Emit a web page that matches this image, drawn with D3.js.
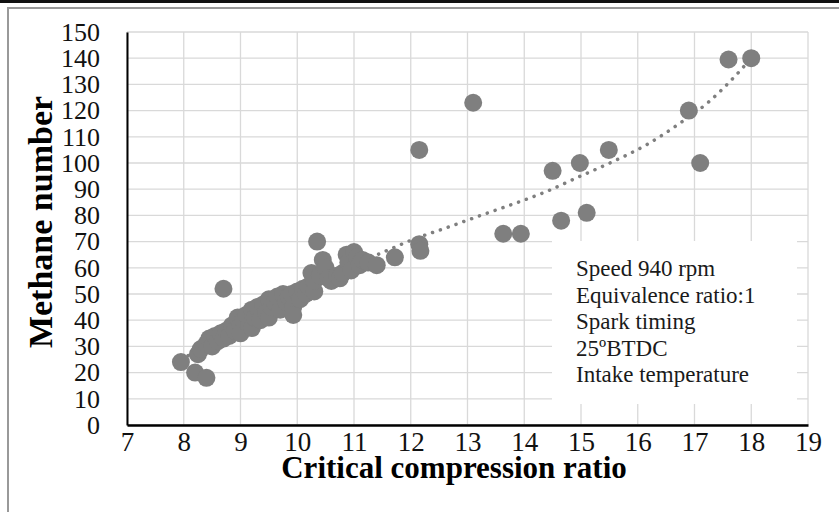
<!DOCTYPE html>
<html>
<head>
<meta charset="utf-8">
<script src="https://cdn.jsdelivr.net/npm/d3@7"></script>
<style>
  body { margin: 0; background: #fff; }
  svg { display: block; }
  text { font-family: "Liberation Serif", "Times New Roman", serif; }
</style>
</head>
<body>
<div id="chart"></div>
<script>
// critical compression ratio (x) and methane number (y) of each gas sample
const ccrValues = [
  7.95, 8.2, 8.4, 8.25, 8.3, 8.4, 8.45, 8.5, 8.55, 8.6,
  8.65, 8.7, 8.75, 8.8, 8.85, 8.9, 8.95, 9.0, 9.0, 9.05,
  9.1, 9.15, 9.2, 9.2, 9.25, 9.3, 9.35, 9.4, 9.45, 9.5,
  9.5, 9.55, 9.6, 9.65, 9.7, 9.75, 9.8, 9.85, 9.9, 9.93,
  9.93, 10.0, 10.05, 10.1, 10.15, 10.2, 10.25, 10.3, 10.3, 10.4,
  10.45, 10.5, 10.55, 10.6, 10.7, 10.75, 10.8, 10.87, 10.9, 10.95,
  11.0, 11.05, 11.1, 11.15, 11.25, 11.4, 8.7, 10.35, 11.72, 12.15,
  12.17, 12.15, 13.1, 13.63, 13.94, 14.5, 14.65, 14.98, 15.1, 15.49,
  16.9, 17.1, 17.6, 18.0
];
const methaneValues = [
  24, 20, 18, 27, 29, 31, 33, 30, 34, 32,
  35, 33, 36, 34, 38, 36, 41, 38, 35, 40,
  42, 38, 44, 37, 41, 45, 40, 46, 43, 48,
  41, 45, 47, 49, 44, 50, 47, 49, 50, 45,
  42, 51, 48, 52, 50, 53, 58, 51, 55, 57,
  63, 60, 56, 55, 57, 56, 58, 65, 62, 59,
  66, 64, 61, 63, 62, 61, 52, 70, 64, 69,
  66.5, 105, 123, 73, 73, 97, 78, 100, 81, 105,
  120, 100, 139.5, 140
];

// dotted trendline
const trendCcr = [7.95, 8.5, 9, 9.5, 10, 10.5, 11, 11.57, 12.04, 12.63, 13.21, 13.8, 14.38, 14.97, 15.56, 16.15, 16.73, 17.26, 17.73, 18.0];
const trendMethane = [25, 31.5, 38, 44, 50, 55.5, 61, 66.5, 70.8, 75.3, 79.8, 84.3, 89, 94.8, 100.5, 106.9, 115, 123.5, 133.5, 140];

const xTicks = d3.range(7, 20, 1);
const yTicks = d3.range(0, 160, 10);

const noteLines = ["Speed 940 rpm", "Equivalence ratio:1", "Spark timing", "25ºBTDC", "Intake temperature"];

const width = 839, height = 512;
const margin = { top: 32, right: 31, bottom: 87, left: 127 };

const svg = d3.select("#chart").append("svg")
  .attr("width", width).attr("height", height);

// page decoration: black rule on top, grey frame
svg.append("rect").attr("x", 0).attr("y", 0).attr("width", width).attr("height", 3).attr("fill", "#111");
svg.append("rect").attr("x", 8).attr("y", 8).attr("width", 900).attr("height", 600)
  .attr("fill", "none").attr("stroke", "#999").attr("stroke-width", 2);

const x = d3.scaleLinear().domain([7, 19]).range([margin.left, width - margin.right]);
const y = d3.scaleLinear().domain([0, 150]).range([height - margin.bottom, margin.top]);

// grid
const grid = svg.append("g").attr("stroke", "#d9d9d9").attr("stroke-width", 1.3);
grid.selectAll(".vx").data(xTicks).enter().append("line")
  .attr("x1", d => x(d)).attr("x2", d => x(d))
  .attr("y1", y(0)).attr("y2", y(150));
grid.selectAll(".hy").data(yTicks).enter().append("line")
  .attr("x1", x(7)).attr("x2", x(19))
  .attr("y1", d => y(d)).attr("y2", d => y(d));

// axes
const xAxis = svg.append("g").attr("transform", `translate(0,${y(0)})`)
  .call(d3.axisBottom(x).tickValues(xTicks).tickSize(0).tickPadding(7).tickFormat(d3.format("d")));
xAxis.select(".domain").attr("stroke", "#000").attr("stroke-width", 2.5);
xAxis.selectAll("text").attr("font-size", 27).attr("fill", "#111")
  .attr("font-family", "Liberation Serif, serif").attr("dy", "0.71em");

const yAxis = svg.append("g").attr("transform", `translate(${x(7)},0)`)
  .call(d3.axisLeft(y).tickValues(yTicks).tickSize(0).tickPadding(27));
yAxis.select(".domain").attr("stroke", "#000").attr("stroke-width", 2);
yAxis.selectAll("text").attr("font-size", 26).attr("fill", "#111")
  .attr("font-family", "Liberation Serif, serif");

// trendline
const trend = trendCcr.map((v, i) => [v, trendMethane[i]]);
svg.append("path").datum(trend)
  .attr("fill", "none").attr("stroke", "#7f7f7f").attr("stroke-width", 3.5)
  .attr("stroke-linecap", "round").attr("stroke-dasharray", "0.1 8.2")
  .attr("d", d3.line().x(d => x(d[0])).y(d => y(d[1])).curve(d3.curveMonotoneX));

// points
svg.append("g").selectAll("circle").data(ccrValues).enter().append("circle")
  .attr("cx", d => x(d)).attr("cy", (d, i) => y(methaneValues[i]))
  .attr("r", 9).attr("fill", "#7f7f7f");

// note box
svg.append("rect").attr("x", 552).attr("y", 241).attr("width", 245).attr("height", 163).attr("fill", "#fff");
svg.append("g").selectAll("text").data(noteLines).enter().append("text")
  .attr("x", 576).attr("y", (d, i) => 276 + i * 26.5)
  .attr("font-size", 23).attr("fill", "#1a1a1a").text(d => d);

// axis titles
svg.append("text").attr("x", 454).attr("y", 478)
  .attr("text-anchor", "middle").attr("font-weight", "bold").attr("font-size", 31)
  .text("Critical compression ratio");
svg.append("text").attr("transform", "translate(52,222) rotate(-90)")
  .attr("text-anchor", "middle").attr("font-weight", "bold").attr("font-size", 34)
  .text("Methane number");
</script>
</body>
</html>
